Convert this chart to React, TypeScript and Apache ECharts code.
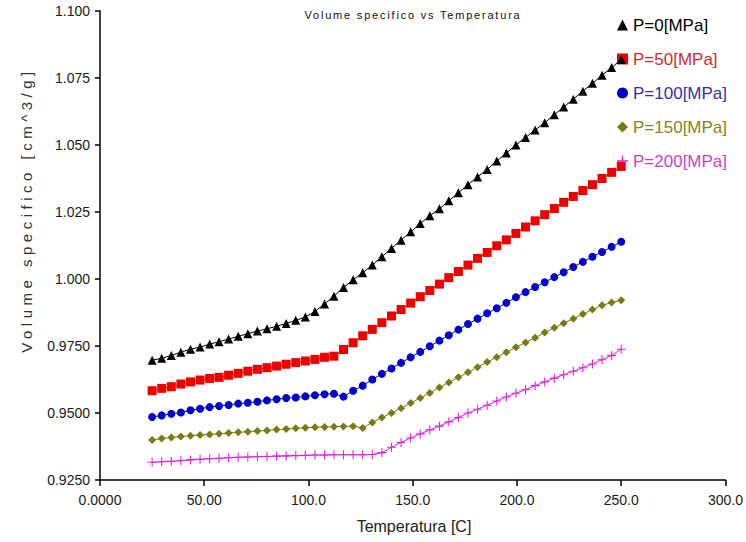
import React, { useEffect, useRef } from "react";
import * as echarts from "echarts";

// Temperature [C] of each measured point
const temperatures = [
  25.0, 29.6, 34.2, 38.8, 43.4, 48.0, 52.6, 57.1, 61.7, 66.3,
  70.9, 75.5, 80.1, 84.7, 89.3, 93.9, 98.5, 103.1, 107.7, 112.2,
  116.8, 121.4, 126.0, 130.6, 135.2, 139.8, 144.4, 149.0, 153.6, 158.2,
  162.8, 167.3, 171.9, 176.5, 181.1, 185.7, 190.3, 194.9, 199.5, 204.1,
  208.7, 213.3, 217.9, 222.4, 227.0, 231.6, 236.2, 240.8, 245.4, 250.0,
];

const p0 = [
  0.9697, 0.9704, 0.9715, 0.9727, 0.9738, 0.9746, 0.9757, 0.9766, 0.9776, 0.9786,
  0.9796, 0.9806, 0.9814, 0.9824, 0.9834, 0.9846, 0.9858, 0.9879, 0.9907, 0.9936,
  0.9968, 0.9997, 1.0023, 1.0052, 1.0083, 1.0114, 1.0145, 1.0176, 1.0207, 1.0236,
  1.0262, 1.0292, 1.0322, 1.0352, 1.0381, 1.0409, 1.044, 1.047, 1.05, 1.0528,
  1.0556, 1.0583, 1.0613, 1.0642, 1.0671, 1.0701, 1.073, 1.076, 1.0789, 1.0819,
];

const p50 = [
  0.9583, 0.9592, 0.9598, 0.9608, 0.9616, 0.9623, 0.9629, 0.9633, 0.9641, 0.9648,
  0.9656, 0.9663, 0.9669, 0.9675, 0.9682, 0.9688, 0.9694, 0.97, 0.9708, 0.9712,
  0.9737, 0.9762, 0.9788, 0.9812, 0.9837, 0.9862, 0.9886, 0.991, 0.9934, 0.9957,
  0.9981, 1.0005, 1.0028, 1.0052, 1.0077, 1.0099, 1.0124, 1.0146, 1.017, 1.0194,
  1.0217, 1.024, 1.0263, 1.0286, 1.0308, 1.033, 1.0352, 1.0375, 1.0398, 1.042,
];

const p100 = [
  0.9485, 0.9491, 0.9497, 0.9502, 0.951, 0.9516, 0.9522, 0.9526, 0.953, 0.9535,
  0.9538, 0.9542, 0.9547, 0.9551, 0.9556, 0.9558, 0.9562, 0.9566, 0.957, 0.9572,
  0.9561, 0.9583, 0.9602, 0.9625, 0.9646, 0.9666, 0.9687, 0.9708, 0.9728, 0.9749,
  0.977, 0.979, 0.9811, 0.9832, 0.9852, 0.9872, 0.9891, 0.9911, 0.9932, 0.9951,
  0.997, 0.9988, 1.0007, 1.0025, 1.0045, 1.0064, 1.0083, 1.0101, 1.012, 1.0139,
];

const p150 = [
  0.9399, 0.9405, 0.9409, 0.9412, 0.9415, 0.9418, 0.942, 0.9423, 0.9425, 0.9428,
  0.943, 0.9433, 0.9435, 0.9438, 0.944, 0.9443, 0.9445, 0.9447, 0.9448, 0.9449,
  0.945, 0.9451, 0.9444, 0.9465, 0.9483, 0.95, 0.9518, 0.9537, 0.9556, 0.9575,
  0.9595, 0.9614, 0.9633, 0.9652, 0.9671, 0.969, 0.9708, 0.9727, 0.9745, 0.9763,
  0.9781, 0.98, 0.9818, 0.9835, 0.9852, 0.9869, 0.9886, 0.9902, 0.9912, 0.9921,
];

const p200 = [
  0.9316, 0.9318, 0.932, 0.9322, 0.9325, 0.9327, 0.9329, 0.9331, 0.9333, 0.9335,
  0.9336, 0.9337, 0.9338, 0.9339, 0.934, 0.9341, 0.9342, 0.9343, 0.9343, 0.9344,
  0.9344, 0.9344, 0.9344, 0.9345, 0.9352, 0.9372, 0.939, 0.9407, 0.9422, 0.9437,
  0.9451, 0.9467, 0.9483, 0.95, 0.9514, 0.9529, 0.9545, 0.956, 0.9574, 0.9587,
  0.9602, 0.9616, 0.963, 0.9643, 0.9656, 0.9669, 0.9683, 0.9699, 0.9715, 0.9738,
];

const seriesNames = ["P=0[MPa]", "P=50[MPa]", "P=100[MPa]", "P=150[MPa]", "P=200[MPa]"];
const seriesValues = [p0, p50, p100, p150, p200];

const yTickLabels = ["0.9250", "0.9500", "0.9750", "1.000", "1.025", "1.050", "1.075", "1.100"];
const xTickLabels = ["0.0000", "50.00", "100.0", "150.0", "200.0", "250.0", "300.0"];

const TITLE = "Volume specifico vs Temperatura";
const Y_NAME = "Volume specifico [cm^3/g]";
const X_NAME = "Temperatura [C]";

const PLUS = "path://M4.4,0h1.2v4.4h4.4v1.2h-4.4v4.4h-1.2v-4.4h-4.4v-1.2h4.4z";

const styles = [
  { color: "#000000", text: "#000000", symbol: "triangle", size: 9 },
  { color: "#ee0000", text: "#d42a2a", symbol: "rect", size: 9 },
  { color: "#0000cc", text: "#3232a8", symbol: "circle", size: 8 },
  { color: "#7a7a10", text: "#85851f", symbol: "diamond", size: 8 },
  { color: "#e020e0", text: "#cc3fcc", symbol: PLUS, size: 9 },
];

const FONT = "'Liberation Sans', Arial, sans-serif";

export default function App() {
  const ref = useRef<HTMLDivElement>(null);

  useEffect(() => {
    const el = ref.current!;
    const chart = echarts.init(el, undefined, { renderer: "svg" });

    const series = seriesNames.map((name, k) => ({
      name,
      type: "line",
      data: temperatures.map((t, i) => [t, seriesValues[k][i]]),
      symbol: styles[k].symbol,
      symbolSize: styles[k].size,
      showAllSymbol: true,
      itemStyle: { color: styles[k].color, borderWidth: 0 },
      lineStyle: { color: styles[k].color, width: 1 },
      emphasis: { disabled: true },
      z: 10 - k,
    }));

    const option: any = {
      animation: false,
      backgroundColor: "#ffffff",
      grid: { left: 100, top: 11, right: 19, bottom: 62, containLabel: false },
      xAxis: {
        type: "value",
        min: 0,
        max: 300,
        interval: 50,
        axisLine: { show: true, lineStyle: { color: "#000", width: 1.5 } },
        axisTick: { show: true, inside: false, length: 6, lineStyle: { color: "#000", width: 1.5 } },
        splitLine: { show: false },
        axisLabel: {
          margin: 13,
          fontSize: 14,
          fontFamily: FONT,
          color: "#1a1a1a",
          formatter: (v: number) => xTickLabels[Math.round(v / 50)],
        },
      },
      yAxis: {
        type: "value",
        min: 0.925,
        max: 1.1,
        interval: 0.025,
        axisLine: { show: true, lineStyle: { color: "#000", width: 1.5 } },
        axisTick: { show: true, inside: false, length: 5, lineStyle: { color: "#000", width: 1.5 } },
        splitLine: { show: false },
        axisLabel: {
          margin: 10,
          fontSize: 14,
          fontFamily: FONT,
          color: "#1a1a1a",
          formatter: (v: number) => yTickLabels[Math.round((v - 0.925) / 0.025)],
        },
      },
      legend: {
        orient: "vertical",
        left: 612,
        top: 11,
        itemWidth: 11,
        itemHeight: 11,
        itemGap: 16,
        textStyle: { fontSize: 17, fontFamily: FONT, lineHeight: 18 },
        data: seriesNames.map((name, k) => ({
          name,
          icon: styles[k].symbol,
          textStyle: { color: styles[k].text },
        })),
      },
      graphic: [
        {
          type: "text",
          x: 413,
          y: 15,
          style: {
            text: TITLE,
            font: `11px ${FONT}`,
            fill: "#111",
            align: "center",
            verticalAlign: "middle",
            textAlign: "center",
            textVerticalAlign: "middle",
          },
        },
        {
          type: "text",
          x: 26,
          y: 210,
          rotation: Math.PI / 2,
          style: {
            text: Y_NAME,
            font: `15px ${FONT}`,
            fill: "#333",
            align: "center",
            verticalAlign: "middle",
            textAlign: "center",
            textVerticalAlign: "middle",
          },
        },
        {
          type: "text",
          x: 414,
          y: 526,
          style: {
            text: X_NAME,
            font: `16px ${FONT}`,
            fill: "#222",
            align: "center",
            verticalAlign: "middle",
            textAlign: "center",
            textVerticalAlign: "middle",
          },
        },
      ],
      series,
    };

    const spacing: Record<string, number> = { [TITLE]: 1.8, [Y_NAME]: 4.5 };
    const apply = () => {
      el.querySelectorAll("text").forEach((t) => {
        const s = spacing[(t.textContent || "").trim()];
        if (s != null) t.setAttribute("letter-spacing", String(s));
      });
    };
    chart.on("finished", apply);
    chart.setOption(option);
    apply();
    const timer = setTimeout(apply, 50);

    return () => {
      clearTimeout(timer);
      chart.dispose();
    };
  }, []);

  return (
    <div
      ref={ref}
      style={{ position: "fixed", left: 0, top: 0, width: 746, height: 542, background: "#fff" }}
    />
  );
}
